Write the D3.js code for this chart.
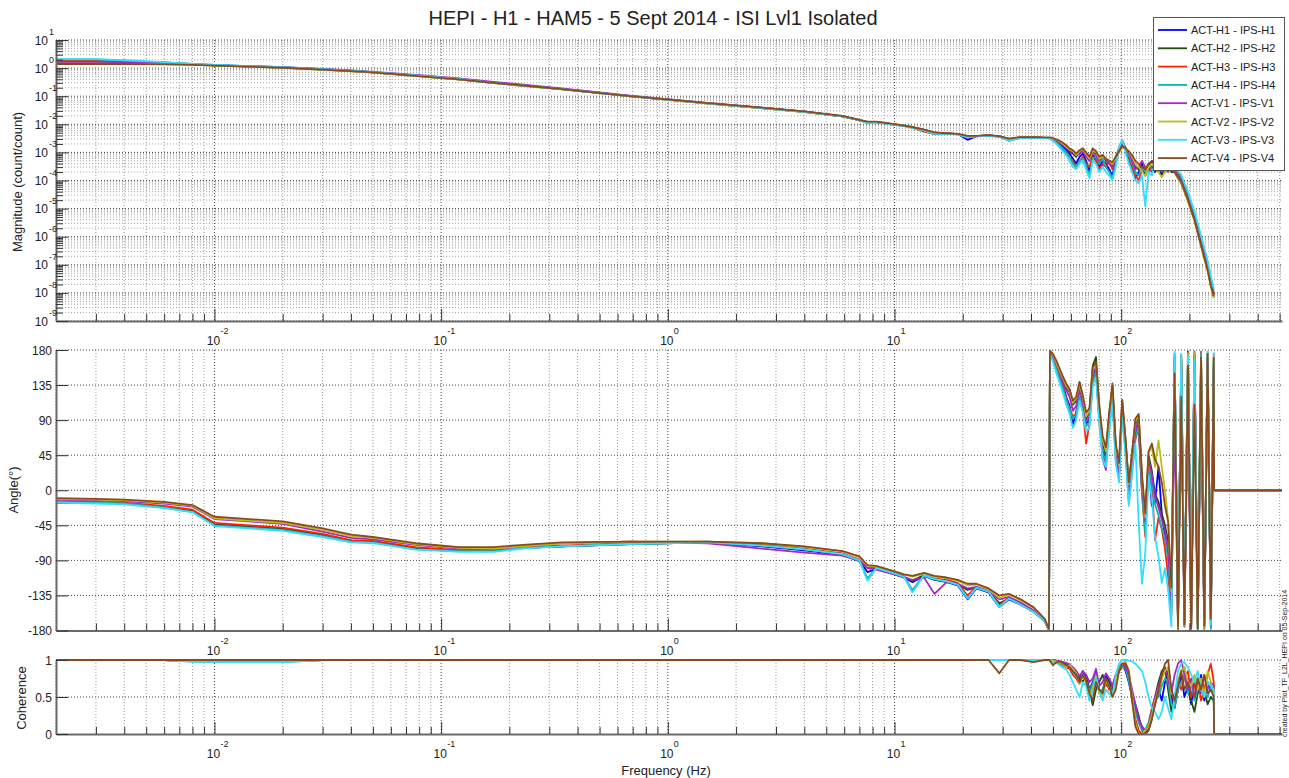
<!DOCTYPE html>
<html><head><meta charset="utf-8">
<script src="https://cdn.jsdelivr.net/npm/d3@7"></script>
<style>
body{margin:0;background:#fff;}
text{font-family:"Liberation Sans",Arial,Helvetica,sans-serif;fill:#222;}
</style>
</head><body>
<svg id="c" width="1289" height="778"></svg>
<script>
// ---------------- DATA ----------------
const freq = [0.002,0.003,0.004,0.006,0.008,0.01,0.02,0.03,0.04,0.05,
 0.077,0.12,0.17,0.23,0.34,0.68,1.5,2.6,4,5.9,
 7,7.6,8.3,10,11,12,13.5,15,17,19,
 21,23,26,29,32,36,41,46,48,
 48.5,50,51.8,53.5,55.3,57.2,59.2,61.2,63.3,65.5,
 67.7,70,72.4,74.9,77.4,80,82.8,85.6,88.5,91.5,
 94.6,97.8,101,104.5,108,111.7,115.5,119.4,123.5,127.7,
 132,136.5,141,146,151,156,161,166.5,172,178,
 184,190,197,203.5,210.5,217.5,225,232.5,240.5,248.5,
 256,
 257,512];

const seriesNames = ["ACT-H1 - IPS-H1","ACT-H2 - IPS-H2","ACT-H3 - IPS-H3","ACT-H4 - IPS-H4",
 "ACT-V1 - IPS-V1","ACT-V2 - IPS-V2","ACT-V3 - IPS-V3","ACT-V4 - IPS-V4"];
const seriesColors = ["#0000ff","#234a0f","#ff2200","#11b2b2","#a626c8","#bcbc1a","#33ddff","#8b4a1b"];

// Magnitude (count/count)
const magH1 = [1.85,1.85,1.72,1.55,1.38,1.28,1.06,0.9,0.8,0.71,
 0.54,0.4,0.3,0.24,0.18,0.1,0.056,0.038,0.028,0.019,
 0.014,0.012,0.012,0.0098,0.0088,0.0078,0.0063,0.005,0.0047,0.0045,
 0.0028,0.0038,0.004,0.0037,0.0029,0.0034,0.0033,0.0032,0.0032,
 3e-3,2.8e-3,2.4e-3,2e-3,1.6e-3,1.2e-3,9e-4,6e-4,4e-4,7e-4,
 9e-4,5e-4,2e-4,8e-4,6e-4,3e-4,5e-4,4e-4,2.5e-4,1.5e-4,
 5e-4,1.2e-3,2.4e-3,1.2e-3,6e-4,3e-4,1.2e-4,2e-4,4e-4,1.5e-4,
 3e-4,5e-4,2e-4,3e-4,1.5e-4,4e-4,6e-4,2.5e-4,3e-4,1.5e-4,
 1e-4,5e-5,2.5e-5,1.2e-5,5e-6,1.8e-6,7e-7,2.5e-7,9e-8,2.5e-8,
 9e-9, null,null];
const magH2 = [1.6,1.6,1.58,1.48,1.35,1.24,1.04,0.89,0.79,0.7,
 0.53,0.4,0.3,0.24,0.18,0.1,0.056,0.038,0.028,0.019,
 0.014,0.012,0.012,0.01,0.0089,0.0079,0.0063,0.005,0.0047,0.0045,
 0.0037,0.0038,0.004,0.0037,0.003,0.0035,0.0034,0.0033,0.0033,
 3.1e-3,3e-3,2.7e-3,2.3e-3,1.9e-3,1.5e-3,1.1e-3,9e-4,7e-4,1e-3,
 1.2e-3,8e-4,6e-4,1.3e-3,9e-4,6e-4,8e-4,5e-4,4e-4,3e-4,
 7e-4,1.1e-3,1.8e-3,1.4e-3,9e-4,5e-4,3e-4,2.5e-4,3e-4,2e-4,
 4e-4,3e-4,2.5e-4,4e-4,2e-4,3e-4,5e-4,2e-4,2e-4,1.2e-4,
 8e-5,4e-5,2e-5,9e-6,4e-6,1.5e-6,5e-7,2e-7,7e-8,2e-8,
 7e-9, null,null];
const magH3 = [1.8,1.8,1.7,1.52,1.36,1.26,1.05,0.9,0.8,0.71,
 0.54,0.4,0.3,0.24,0.18,0.1,0.056,0.038,0.028,0.019,
 0.014,0.0115,0.012,0.01,0.0089,0.0075,0.0055,0.0045,0.0046,0.0045,
 0.0036,0.0038,0.004,0.0037,0.0026,0.0034,0.0034,0.0033,0.0033,
 3.2e-3,2.9e-3,2.3e-3,1.7e-3,1.2e-3,9e-4,7e-4,5e-4,3e-4,5e-4,
 7e-4,4e-4,3e-4,7e-4,5e-4,2.5e-4,4e-4,3e-4,5e-4,2.5e-4,
 6e-4,1.5e-3,2.6e-3,1.5e-3,7e-4,3e-4,1.5e-4,1e-4,2.5e-4,3e-4,
 2e-4,3e-4,4e-4,5e-4,2.5e-4,3e-4,2e-4,4e-4,2e-4,1.8e-4,
 1.2e-4,6e-5,3e-5,1.4e-5,6e-6,2.2e-6,8e-7,3e-7,1e-7,3e-8,
 1e-8, null,null];
const magH4 = [2.05,2.05,1.85,1.6,1.4,1.3,1.07,0.91,0.81,0.72,
 0.55,0.41,0.3,0.24,0.18,0.1,0.056,0.038,0.028,0.019,
 0.014,0.011,0.012,0.0095,0.0088,0.0076,0.006,0.0047,0.0046,0.0044,
 0.0034,0.0037,0.0039,0.0036,0.0027,0.0033,0.0034,0.0032,0.0032,
 3e-3,2.7e-3,2.2e-3,1.8e-3,1.4e-3,1e-3,7e-4,4e-4,3e-4,5e-4,
 6e-4,3.5e-4,1.5e-4,6e-4,7e-4,4e-4,6e-4,3e-4,2e-4,1.2e-4,
 4e-4,1.3e-3,2.7e-3,1.3e-3,8e-4,4e-4,2e-4,1.5e-4,3e-4,2e-4,
 2.5e-4,4e-4,2.5e-4,2e-4,3e-4,5e-4,4e-4,3e-4,2.5e-4,2e-4,
 1.4e-4,7e-5,3.5e-5,1.6e-5,7e-6,2.5e-6,9e-7,3.5e-7,1.2e-7,3.5e-8,
 1.2e-8, null,null];
const magV1 = [1.65,1.65,1.6,1.5,1.36,1.26,1.08,0.93,0.83,0.74,
 0.57,0.43,0.32,0.26,0.19,0.105,0.058,0.039,0.028,0.019,
 0.014,0.012,0.012,0.01,0.0089,0.0079,0.0063,0.005,0.0047,0.0045,
 0.0038,0.0038,0.004,0.0037,0.0028,0.0035,0.0034,0.0033,0.0033,
 3.2e-3,3e-3,2.6e-3,2.2e-3,1.9e-3,1.5e-3,1.2e-3,1e-3,8e-4,9e-4,
 1.1e-3,7e-4,5e-4,1e-3,8e-4,5e-4,7e-4,6e-4,4e-4,3e-4,
 6e-4,1.1e-3,1.9e-3,1.2e-3,1e-3,5e-4,2.5e-4,3e-4,5e-4,3e-4,
 3e-4,2e-4,3e-4,4e-4,3e-4,2e-4,3e-4,3e-4,2.5e-4,1.5e-4,
 1e-4,5e-5,2.2e-5,1e-5,4.5e-6,1.7e-6,6e-7,2.2e-7,8e-8,2.2e-8,
 8e-9, null,null];
const magV2 = [1.45,1.45,1.42,1.38,1.3,1.22,1.02,0.87,0.77,0.69,
 0.52,0.39,0.29,0.23,0.175,0.098,0.055,0.037,0.027,0.019,
 0.014,0.012,0.012,0.01,0.0089,0.0079,0.0063,0.005,0.0047,0.0045,
 0.0038,0.0038,0.004,0.0037,0.003,0.0035,0.0034,0.0033,0.0033,
 3.3e-3,3.1e-3,2.8e-3,2.5e-3,2e-3,1.6e-3,1.3e-3,1.1e-3,8e-4,1.1e-3,
 1.3e-3,9e-4,6e-4,1.2e-3,1e-3,6e-4,7e-4,6e-4,5e-4,4e-4,
 6e-4,1e-3,1.5e-3,1.3e-3,1.1e-3,7e-4,4e-4,3e-4,2e-4,1.5e-4,
 3e-4,4e-4,3e-4,2e-4,1.3e-4,2e-4,4e-4,5e-4,2e-4,1.2e-4,
 8e-5,4e-5,1.8e-5,8e-6,3.5e-6,1.3e-6,4.5e-7,1.6e-7,6e-8,1.6e-8,
 7e-9, null,null];
const magV3 = [2.1,2.1,1.9,1.62,1.42,1.3,1.07,0.91,0.81,0.72,
 0.55,0.41,0.3,0.24,0.18,0.1,0.056,0.038,0.028,0.019,
 0.014,0.0105,0.012,0.0095,0.0087,0.0075,0.006,0.0046,0.0046,0.0044,
 0.0034,0.0037,0.0039,0.0036,0.0026,0.0033,0.0033,0.0032,0.0032,
 3e-3,2.6e-3,2e-3,1.5e-3,1.1e-3,8e-4,5e-4,3e-4,2.5e-4,4e-4,
 5e-4,2.5e-4,1.2e-4,5e-4,4e-4,2e-4,3e-4,2e-4,1.5e-4,1e-4,
 3e-4,1.5e-3,2.8e-3,1e-3,4e-4,2e-4,1e-4,8e-5,1.5e-4,1.2e-5,
 2e-4,1.5e-4,4e-4,6e-4,8e-4,5e-4,3e-4,4e-4,3e-4,2.2e-4,
 1.6e-4,8e-5,4e-5,1.8e-5,8e-6,3e-6,1.1e-6,4e-7,1.4e-7,4e-8,
 1.4e-8, null,null];
const magV4 = [1.4,1.4,1.4,1.36,1.3,1.22,1.03,0.88,0.78,0.7,
 0.53,0.4,0.3,0.24,0.18,0.1,0.057,0.039,0.029,0.02,
 0.0145,0.0125,0.0125,0.0102,0.009,0.008,0.0065,0.0052,0.0048,0.0046,
 0.0039,0.0039,0.0041,0.0038,0.0031,0.0035,0.0035,0.0034,0.0034,
 3.4e-3,3.2e-3,2.9e-3,2.6e-3,2.2e-3,1.8e-3,1.4e-3,1.2e-3,9e-4,1.2e-3,
 1.4e-3,1e-3,7e-4,1.4e-3,1.1e-3,7e-4,8e-4,6e-4,5e-4,4.5e-4,
 7e-4,1.1e-3,1.7e-3,1.4e-3,1.1e-3,8e-4,5e-4,4e-4,3e-4,2.5e-4,
 4e-4,5e-4,4e-4,3e-4,2e-4,3e-4,3.5e-4,3e-4,2e-4,1.3e-4,
 9e-5,4.5e-5,2e-5,9e-6,4e-6,1.4e-6,5e-7,1.8e-7,6.5e-8,1.8e-8,
 8e-9, null,null];

// Phase (degrees)
const phH1 = [-16,-16,-17,-22,-27,-44,-50,-58,-66,-66,
 -75,-78,-78,-74,-72,-69,-67,-72,-77,-83,
 -91,-105,-101,-108,-112,-118,-110,-115,-118,-122,
 -140,-126,-131,-150,-140,-147,-156,-168,-180,
 176,170,158,146,135,120,108,84,100,128,
 110,85,90,145,155,95,50,40,85,125,
 45,20,105,55,-5,30,70,85,0,-25,
 35,-20,-15,30,-30,-60,-85,-150,170,-165,
 160,-175,170,-150,175,-170,155,-178,165,-160,
 150, 0,0];
const phH2 = [-16,-16,-17,-22,-27,-44,-50,-58,-65,-66,
 -74,-78,-78,-74,-72,-69,-67,-71,-76,-82,
 -90,-100,-100,-107,-111,-116,-109,-114,-117,-121,
 -128,-125,-130,-145,-139,-146,-155,-168,-180,
 177,173,162,152,142,132,126,110,115,138,
 118,92,100,160,171,105,60,45,95,135,
 55,30,115,65,5,45,85,95,15,-45,
 45,25,-5,-15,-30,-45,-65,-135,175,-178,
 168,-170,178,-176,172,-178,170,-172,176,-168,
 160, 0,0];
const phH3 = [-14,-15,-16,-20,-25,-42,-48,-56,-64,-65,
 -73,-77,-77,-73,-71,-68,-66,-70,-75,-81,
 -89,-115,-100,-106,-110,-130,-108,-113,-115,-119,
 -135,-124,-129,-148,-138,-146,-155,-167,-180,
 178,171,157,145,133,118,105,95,98,125,
 105,60,85,140,150,90,45,35,80,120,
 40,15,100,50,-15,25,65,80,-5,-60,
 30,10,-64,-35,-50,-75,-110,-160,165,-170,
 172,-160,168,-178,160,-172,178,-165,170,-175,
 175, 0,0];
const phH4 = [-15,-16,-17,-22,-28,-45,-51,-59,-66,-67,
 -76,-78,-78,-74,-72,-69,-67,-71,-76,-82,
 -90,-113,-100,-107,-111,-128,-109,-114,-117,-121,
 -138,-125,-130,-149,-139,-146,-156,-168,-180,
 175,168,155,143,131,116,104,92,96,122,
 108,82,88,142,152,92,48,38,82,122,
 42,18,102,52,-10,28,68,82,-2,-55,
 32,12,-18,-32,-48,-62,-88,-155,168,-168,
 174,-165,165,-172,170,-160,176,-170,172,-178,
 165, 0,0];
const phV1 = [-12,-13,-14,-17,-21,-37,-43,-53,-61,-63,
 -70,-75,-76,-72,-68,-66,-68,-75,-80,-84,
 -90,-100,-102,-108,-112,-115,-112,-133,-118,-120,
 -126,-124,-130,-140,-137,-144,-154,-168,-180,
 178,172,161,150,139,128,120,102,108,132,
 112,88,94,148,158,100,40,26,88,130,
 50,22,110,58,0,38,78,90,8,-40,
 40,20,-8,-22,-38,-52,-75,-140,95,-170,
 165,-168,120,-175,178,-165,130,-176,168,-172,
 160, 0,0];
const phV2 = [-11,-12,-13,-16,-20,-36,-42,-51,-59,-61,
 -69,-74,-75,-72,-68,-66,-66,-68,-73,-78,
 -86,-97,-98,-104,-108,-111,-107,-111,-113,-116,
 -122,-121,-127,-138,-134,-141,-151,-166,-179,
 179,174,163,153,144,134,128,112,118,136,
 120,95,102,155,162,108,65,50,98,133,
 58,32,112,62,8,48,88,96,18,-35,
 48,55,30,64,30,0,-38,-130,172,-176,
 170,-174,176,-170,176,-172,168,-178,174,-170,
 168, 0,0];
const phV3 = [-16,-17,-18,-23,-28,-46,-52,-60,-67,-68,
 -76,-79,-79,-75,-72,-69,-67,-71,-76,-82,
 -90,-116,-100,-107,-111,-131,-109,-114,-117,-121,
 -139,-125,-130,-150,-139,-147,-156,-168,-180,
 174,165,150,138,125,110,98,80,90,115,
 100,75,80,135,145,85,40,30,75,115,
 35,10,95,45,-20,20,60,-40,-120,-80,
 20,-10,-60,-85,-119,-100,-128,-175,178,-160,
 175,-155,172,-150,168,-178,162,-168,178,-172,
 176, 0,0];
const phV4 = [-10,-11,-12,-15,-19,-34,-40,-49,-57,-60,
 -68,-73,-73,-70,-67,-66,-66,-68,-72,-78,
 -85,-96,-97,-104,-108,-110,-106,-110,-112,-115,
 -120,-120,-126,-135,-133,-140,-150,-165,-178,
 179,175,166,156,146,137,130,115,120,139,
 122,100,105,158,165,110,70,55,100,137,
 60,35,116,65,10,50,92,98,20,-30,
 50,60,40,30,10,-20,-40,-125,150,-175,
 120,-172,160,-176,110,-178,170,-174,175,-165,
 170, 0,0];

// Coherence
const cohH1 = [1,1,1,1,0.99,0.99,0.99,1,1,1,
 1,1,1,1,1,1,1,1,1,1,
 1,1,1,1,1,1,1,1,1,1,
 1,1,1,1,1,1,1,1,1,
 1,0.99,0.98,0.97,0.95,0.96,0.9,0.85,0.8,0.72,
 0.85,0.75,0.6,0.7,0.85,0.6,0.55,0.8,0.7,0.55,
 0.75,0.9,0.95,0.85,0.7,0.5,0.35,0.2,0.1,0.02,
 0.1,0.25,0.4,0.6,0.45,0.7,0.85,0.5,0.35,0.6,
 0.8,0.5,0.65,0.4,0.7,0.55,0.8,0.45,0.7,0.6,
 0.55, 0,0];
const cohH2 = [1,1,1,1,0.99,0.98,0.99,1,1,1,
 1,1,1,1,1,1,1,1,1,1,
 1,1,1,1,1,1,1,1,1,1,
 1,1,1,1,1,1,1,1,1,
 1,0.99,0.99,0.98,0.97,0.95,0.92,0.9,0.85,0.75,
 0.7,0.8,0.6,0.39,0.6,0.7,0.8,0.65,0.75,0.6,
 0.7,0.85,0.95,0.9,0.75,0.55,0.4,0.25,0.05,0.0,
 0.05,0.2,0.5,0.7,0.85,0.9,0.6,0.3,0.5,0.7,
 0.85,0.9,0.6,0.45,0.3,0.55,0.75,0.6,0.4,0.5,
 0.45, 0,0];
const cohH3 = [1,1,1,1,0.99,0.99,0.99,1,1,1,
 1,1,1,1,1,1,1,1,1,1,
 1,1,1,1,1,1,1,1,1,1,
 1,1,1,1,1,1,1,1,1,
 0.99,0.98,0.97,0.95,0.93,0.9,0.88,0.8,0.75,0.68,
 0.8,0.7,0.55,0.65,0.8,0.55,0.6,0.7,0.6,0.65,
 0.8,0.85,0.9,0.95,0.8,0.45,0.2,0.05,0.0,0.05,
 0.15,0.35,0.5,0.55,0.75,0.85,0.9,0.6,0.4,0.7,
 0.6,0.75,0.85,0.5,0.65,0.75,0.45,0.6,0.8,0.95,
 0.7, 0,0];
const cohH4 = [1,1,1,1,0.98,0.97,0.97,1,1,1,
 1,1,1,1,1,1,1,1,1,1,
 1,1,1,1,1,1,1,1,1,1,
 1,1,1,1,1,1,1,1,1,
 1,0.99,0.98,0.96,0.94,0.93,0.9,0.84,0.78,0.7,
 0.82,0.72,0.58,0.68,0.82,0.58,0.6,0.75,0.65,0.55,
 0.72,0.85,0.92,0.88,0.72,0.5,0.3,0.15,0.05,0.05,
 0.15,0.3,0.45,0.5,0.65,0.75,0.7,0.4,0.35,0.6,
 0.7,0.8,0.55,0.7,0.45,0.6,0.7,0.55,0.5,0.65,
 0.6, 0,0];
const cohV1 = [1,1,1,1,0.99,0.99,0.99,1,1,1,
 1,1,1,1,1,1,1,1,1,1,
 1,1,1,1,1,1,1,1,1,1,
 1,1,1,1,1,1,1,1,1,
 1,1,0.99,0.98,0.97,0.96,0.94,0.9,0.85,0.78,
 0.85,0.8,0.7,0.75,0.88,0.65,0.7,0.82,0.75,0.65,
 0.8,0.9,0.95,0.9,0.8,0.6,0.4,0.2,0.1,0.05,
 0.1,0.3,0.5,0.65,0.8,0.9,0.75,0.55,0.8,0.95,
 1.0,0.8,0.6,0.75,0.5,0.7,0.55,0.8,0.6,0.7,
 0.65, 0,0];
const cohV2 = [1,1,1,1,0.99,0.98,0.99,1,1,1,
 1,1,1,1,1,1,1,1,1,1,
 1,1,1,1,1,1,1,1,1,1,
 1,1,1,1,1,1,1,1,1,
 1,0.99,0.98,0.97,0.95,0.9,0.93,0.88,0.82,0.68,
 0.78,0.7,0.5,0.62,0.78,0.55,0.5,0.72,0.65,0.5,
 0.7,0.88,0.95,0.98,0.85,0.5,0.15,0.0,0.0,0.05,
 0.1,0.25,0.45,0.6,0.75,0.85,0.9,0.55,0.5,0.7,
 0.85,0.9,0.7,0.65,0.8,0.6,0.75,0.5,0.85,0.7,
 0.55, 0,0];
const cohV3 = [1,1,1,1,0.98,0.97,0.97,1,1,1,
 1,1,1,1,1,1,1,1,1,1,
 1,1,1,1,1,1,1,1,1,1,
 1,1,1,1,1,1,1,1,1,
 0.99,0.98,0.96,0.93,0.9,0.87,0.8,0.7,0.6,0.5,
 0.7,0.65,0.45,0.55,0.75,0.6,0.45,0.6,0.55,0.5,
 0.8,0.95,1.0,1.0,0.99,0.98,0.95,0.9,0.85,0.7,
 0.5,0.35,0.3,0.2,0.3,0.5,0.35,0.2,0.5,0.85,
 0.95,0.97,0.9,0.8,0.7,0.85,0.6,0.5,0.7,0.65,
 0.6, 0,0];
const cohV4 = [1,1,1,1,1,1,1,1,1,1,
 1,1,1,1,1,1,1,1,1,1,
 1,1,1,1,1,1,1,1,1,1,
 1,1,1,0.82,1,1,0.97,1,1,
 0.99,0.93,0.97,0.98,0.96,0.93,0.9,0.85,0.8,0.7,
 0.8,0.72,0.55,0.45,0.7,0.6,0.55,0.75,0.65,0.5,
 0.6,0.85,0.95,0.95,0.85,0.45,0.1,0.0,0.0,0.0,
 0.05,0.2,0.4,0.6,0.8,0.95,1.0,0.6,0.45,0.65,
 0.85,0.6,0.7,0.55,0.5,0.75,0.6,0.8,0.55,0.6,
 0.5, 0,0];

const magSeries = [magH1,magH2,magH3,magH4,magV1,magV2,magV3,magV4];
const phSeries  = [phH1,phH2,phH3,phH4,phV1,phV2,phV3,phV4];
const cohSeries = [cohH1,cohH2,cohH3,cohH4,cohV1,cohV2,cohV3,cohV4];

// Tick labels
const xTickExps = [-2,-1,0,1,2];
const magTickExps = [1,0,-1,-2,-3,-4,-5,-6,-7,-8,-9];
const phaseTicks = [180,135,90,45,0,-45,-90,-135,-180];
const cohTicks = [0,0.5,1];

const titleText = "HEPI - H1 - HAM5 - 5 Sept 2014 - ISI Lvl1 Isolated";
const sideText = "created by Plot_TF_L2L_HEPI on 05-Sep-2014";

// ---------------- DRAW ----------------
const svg = d3.select('#c');
const L = 56, R = 1282;
const x = d3.scaleLog().domain([0.002, 512]).range([L, R]);
const yMag = d3.scaleLog().domain([1e-9, 10]).range([321, 40]);
const yPh = d3.scaleLinear().domain([-180, 180]).range([630.5, 350]);
const yCoh = d3.scaleLinear().domain([0, 1]).range([734, 660]);

const xMinor = [], xMajor = [];
for (let d = -3; d <= 2; d++) for (let k = 1; k <= 9; k++) {
  const v = k * Math.pow(10, d);
  if (v >= 0.002 && v <= 512) { (k === 1 ? xMajor : xMinor).push(v); }
}
const magMinor = [], magMajor = magTickExps.map(e => Math.pow(10, e));
for (let d = -9; d <= 0; d++) for (let k = 2; k <= 9; k++) magMinor.push(k * Math.pow(10, d));

const axisCol = "#6a6a6a";
const defs = svg.append('defs');

function panel(key, y, top, bot, yMajorVals, yMinorVals) {
  const g = svg.append('g');
  defs.append('clipPath').attr('id', 'clip-' + key)
    .append('rect').attr('x', L).attr('y', top - 1).attr('width', R - L).attr('height', bot - top + 2);
  g.selectAll('.vmin').data(xMinor).join('line')
    .attr('x1', d => x(d)).attr('x2', d => x(d)).attr('y1', top).attr('y2', bot)
    .attr('stroke', '#9a9a9a').attr('stroke-width', 1).attr('stroke-dasharray', '1,2');
  g.selectAll('.vmaj').data(xMajor).join('line')
    .attr('x1', d => x(d)).attr('x2', d => x(d)).attr('y1', top).attr('y2', bot)
    .attr('stroke', '#444').attr('stroke-width', 1).attr('stroke-dasharray', '1,2');
  if (yMinorVals) {
    g.selectAll('.hmin').data(yMinorVals).join('line')
      .attr('x1', L).attr('x2', R).attr('y1', d => y(d)).attr('y2', d => y(d))
      .attr('stroke', '#a5a5a5').attr('stroke-width', 1).attr('stroke-dasharray', '1,2');
  }
  g.selectAll('.hmaj').data(yMajorVals).join('line')
    .attr('x1', L).attr('x2', R).attr('y1', d => y(d)).attr('y2', d => y(d))
    .attr('stroke', '#444').attr('stroke-width', 1).attr('stroke-dasharray', '1,2');
  return g;
}

function drawCurves(key, y, seriesArr, isLog) {
  const g = svg.append('g').attr('clip-path', 'url(#clip-' + key + ')');
  const line = d3.line()
    .defined(d => d[1] !== null && d[1] !== undefined && (!isLog || d[1] > 0))
    .x(d => x(d[0])).y(d => y(d[1]));
  seriesArr.forEach((arr, si) => {
    const n = Math.min(arr.length, freq.length);
    const pts = [];
    for (let i = 0; i < n; i++) pts.push([freq[i], arr[i]]);
    g.append('path').attr('d', line(pts)).attr('fill', 'none')
      .attr('stroke', seriesColors[si]).attr('stroke-width', 1.8)
      .attr('stroke-linejoin', 'round');
  });
}

function axes(y, top, bot, yMajorVals, yMinorVals) {
  const gx = svg.append('g').attr('transform', `translate(0,${bot})`);
  gx.call(d3.axisBottom(x).tickValues(xMinor).tickSize(-7).tickSizeOuter(0).tickFormat(''));
  const gx2 = svg.append('g').attr('transform', `translate(0,${bot})`);
  gx2.call(d3.axisBottom(x).tickValues(xMajor).tickSize(-12).tickSizeOuter(0).tickFormat(''));
  gx2.select('.domain').remove();
  const gy = svg.append('g').attr('transform', `translate(${L},0)`);
  gy.call(d3.axisLeft(y).tickValues(yMajorVals).tickSize(-12).tickSizeOuter(0).tickFormat(''));
  if (yMinorVals) {
    const gy2 = svg.append('g').attr('transform', `translate(${L},0)`);
    gy2.call(d3.axisLeft(y).tickValues(yMinorVals).tickSize(-7).tickSizeOuter(0).tickFormat(''));
    gy2.select('.domain').remove();
  }
  svg.selectAll('.domain').attr('stroke', axisCol).attr('stroke-width', 2);
  svg.selectAll('.tick line').attr('stroke', '#333').attr('stroke-width', 1);
  xTickExps.forEach(e => {
    const px = x(Math.pow(10, e));
    svg.append('text').attr('x', px - 1).attr('y', bot + 24).attr('text-anchor', 'middle')
      .attr('font-size', 12).text('10');
    svg.append('text').attr('x', px + 6).attr('y', bot + 13).attr('text-anchor', 'start')
      .attr('font-size', 9).text(e);
  });
}

panel('mag', yMag, 40, 321, magMajor, magMinor);
panel('ph', yPh, 350, 630.5, phaseTicks, null);
panel('coh', yCoh, 660, 734, [0.5, 1], null);

drawCurves('mag', yMag, magSeries, true);
drawCurves('ph', yPh, phSeries, false);
drawCurves('coh', yCoh, cohSeries, false);

axes(yMag, 40, 321, magMajor, magMinor);
axes(yPh, 350, 630.5, phaseTicks, null);
axes(yCoh, 660, 734, cohTicks, null);

magTickExps.forEach(e => {
  const py = yMag(Math.pow(10, e));
  svg.append('text').attr('x', 48).attr('y', py + 4.5).attr('text-anchor', 'end')
    .attr('font-size', 12).text('10');
  svg.append('text').attr('x', 49).attr('y', py - 5).attr('text-anchor', 'start')
    .attr('font-size', 9).text(e);
});
phaseTicks.forEach(v => {
  svg.append('text').attr('x', 52).attr('y', yPh(v) + 4.5).attr('text-anchor', 'end')
    .attr('font-size', 12).text(v);
});
cohTicks.forEach(v => {
  svg.append('text').attr('x', 52).attr('y', yCoh(v) + 4.5).attr('text-anchor', 'end')
    .attr('font-size', 12).text(v);
});

svg.append('text').attr('transform', 'translate(22,182) rotate(-90)').attr('text-anchor', 'middle')
  .attr('font-size', 13).text('Magnitude (count/count)');
svg.append('text').attr('transform', 'translate(18,490) rotate(-90)').attr('text-anchor', 'middle')
  .attr('font-size', 13).text('Angle(°)');
svg.append('text').attr('transform', 'translate(26,698) rotate(-90)').attr('text-anchor', 'middle')
  .attr('font-size', 13).text('Coherence');
svg.append('text').attr('x', 666).attr('y', 775).attr('text-anchor', 'middle')
  .attr('font-size', 13).text('Frequency (Hz)');

svg.append('text').attr('x', 653).attr('y', 25).attr('text-anchor', 'middle')
  .attr('font-size', 20).text(titleText);

svg.append('text').attr('transform', 'translate(1287,737) rotate(-90)').attr('text-anchor', 'start')
  .attr('font-size', 7).text(sideText);

const lg = svg.append('g');
lg.append('rect').attr('x', 1153.5).attr('y', 17.5).attr('width', 131).attr('height', 153)
  .attr('fill', '#fff').attr('stroke', '#555').attr('stroke-width', 1);
seriesNames.forEach((nm, i) => {
  const yy = 30 + i * 18.3;
  lg.append('line').attr('x1', 1158).attr('x2', 1187).attr('y1', yy).attr('y2', yy)
    .attr('stroke', seriesColors[i]).attr('stroke-width', 1.8);
  lg.append('text').attr('x', 1191).attr('y', yy + 4).attr('font-size', 11).text(nm);
});
</script>
</body></html>
